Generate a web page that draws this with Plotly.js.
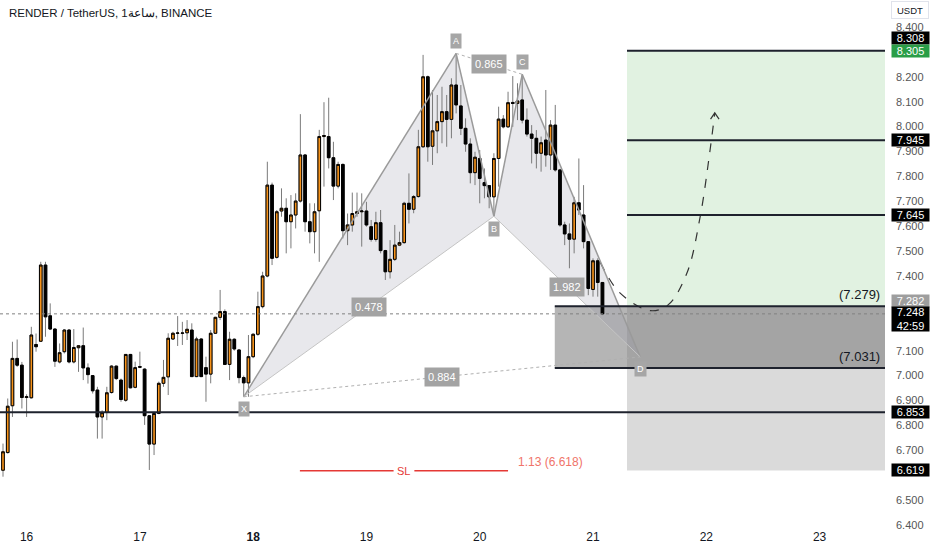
<!DOCTYPE html>
<html><head><meta charset="utf-8">
<script src="https://cdn.plot.ly/plotly-3.0.1.min.js"></script>
<style>html,body{margin:0;padding:0;background:#fff}#chart{width:932px;height:550px}</style>
</head><body><div id="chart"></div><script>
// Hourly candles, RENDER/USDT (first candle = 15th 19:00)
const open  = [6.620,6.691,6.879,7.069,7.042,6.912,6.911,7.125,7.138,7.444,7.240,7.187,7.055,7.096,7.183,7.055,7.112,7.120,7.031,7.000,
6.942,6.834,6.852,6.932,7.038,6.982,6.901,7.085,6.953,7.036,7.026,6.839,6.725,6.848,6.969,6.995,7.147,7.170,7.170,7.172,
7.183,6.996,7.147,7.032,7.006,7.170,7.234,7.257,7.045,7.146,7.103,6.992,6.971,7.076,7.166,7.277,7.400,7.765,7.475,7.661,
7.672,7.618,7.645,7.701,7.886,7.618,7.578,7.662,7.960,7.960,7.875,7.761,7.848,7.582,7.605,7.651,7.658,7.661,7.598,7.547,
7.614,7.502,7.417,7.467,7.524,7.534,7.692,7.668,7.719,7.919,8.200,7.921,7.983,8.020,8.060,8.029,8.167,8.083,7.993,7.930,
7.815,7.872,7.775,7.763,7.718,7.872,8.030,7.999,8.097,8.093,8.107,8.026,7.970,7.953,7.893,7.946,7.886,8.006,7.826,7.605,
7.569,7.548,7.694,7.645,7.538,7.346,7.461,7.374];
const high  = [6.727,6.908,7.136,7.145,7.055,6.925,7.196,7.169,7.457,7.457,7.290,7.190,7.129,7.187,7.187,7.187,7.122,7.193,7.049,7.002,
6.955,6.861,6.955,7.042,7.040,6.988,7.085,7.087,7.056,7.096,7.030,6.840,6.855,6.976,7.063,7.170,7.176,7.239,7.216,7.223,
7.210,7.156,7.150,7.076,7.183,7.236,7.344,7.266,7.176,7.150,7.107,7.000,7.163,7.170,7.337,7.417,7.859,7.775,7.665,7.752,
7.712,7.725,7.732,8.050,7.890,7.692,7.692,7.987,8.098,8.116,7.939,7.859,7.852,7.651,7.735,7.735,7.732,7.698,7.625,7.658,
7.665,7.505,7.544,7.605,7.578,7.698,7.812,7.725,7.987,8.288,8.205,8.147,8.127,8.160,8.127,8.194,8.294,8.167,8.033,7.953,
7.899,7.906,7.832,7.765,7.893,8.080,8.046,8.140,8.203,8.174,8.210,8.073,8.006,7.986,7.960,8.147,8.026,8.087,7.830,7.618,
7.611,7.718,7.872,7.765,7.540,7.471,7.471,7.376];
const low   = [6.594,6.687,6.834,7.035,6.868,6.834,6.908,7.096,7.136,7.156,7.183,7.035,7.049,7.089,7.049,7.049,7.015,6.982,6.968,6.928,
6.747,6.747,6.821,6.928,6.982,6.895,6.895,6.949,6.949,7.030,6.802,6.621,6.681,6.845,6.955,6.922,7.143,7.119,7.123,7.143,
6.996,6.994,6.994,6.895,6.969,7.168,7.223,7.043,6.982,7.100,6.969,6.915,6.915,7.070,7.160,7.270,7.395,7.444,7.470,7.638,
7.491,7.511,7.591,7.695,7.578,7.531,7.491,7.457,7.759,7.832,7.705,7.752,7.551,7.524,7.578,7.638,7.518,7.598,7.538,7.538,
7.491,7.384,7.390,7.460,7.520,7.530,7.611,7.652,7.715,7.915,7.859,7.846,7.893,7.933,7.919,7.953,8.053,7.966,7.899,7.772,
7.765,7.692,7.712,7.672,7.640,7.759,7.993,7.995,7.999,8.026,8.013,7.960,7.852,7.832,7.819,7.839,7.826,7.819,7.598,7.524,
7.431,7.491,7.645,7.511,7.323,7.317,7.317,7.243];
const close = [6.694,6.877,7.069,7.042,6.912,6.915,7.163,7.116,7.444,7.236,7.187,7.058,7.092,7.183,7.055,7.113,7.120,7.031,7.004,6.939,
6.834,6.851,6.931,7.038,6.988,6.904,7.085,6.951,7.032,7.034,6.839,6.725,6.848,6.969,6.993,7.150,7.170,7.171,7.171,7.186,
6.996,7.147,6.996,7.006,7.170,7.234,7.257,7.045,7.146,7.107,6.992,6.971,7.076,7.166,7.277,7.400,7.765,7.471,7.658,7.672,
7.618,7.645,7.701,7.886,7.618,7.578,7.658,7.960,7.964,7.875,7.761,7.848,7.582,7.605,7.651,7.658,7.661,7.605,7.547,7.614,
7.502,7.417,7.467,7.524,7.534,7.692,7.668,7.719,7.919,8.200,7.919,7.983,8.020,8.060,8.029,8.167,8.087,7.993,7.930,7.815,
7.877,7.792,7.763,7.718,7.872,8.030,7.999,8.096,8.093,8.103,8.026,7.970,7.953,7.893,7.935,7.886,8.006,7.826,7.605,7.569,
7.548,7.694,7.665,7.538,7.350,7.461,7.374,7.248];

const firstHour = 19;                 // first candle at 19:00 of day 15
const dayLabels = ['16','17','<b>18</b>','19','20','21','22','23'];
// tick values visible on the price scale (8.300, 7.300, 7.200, 6.600 are hidden behind price boxes)
const yTicks = [6.4,6.5,6.7,6.8,6.9,7.0,7.1,7.4,7.5,7.6,7.7,7.8,7.9,8.0,8.1,8.2,8.4];

// XABCD pattern (x = candle index, y = price)
const patX = [51, 96, 104, 110, 135];
const patY = [6.915, 8.294, 7.640, 8.210, 7.075];
const patNames = ['X','A','B','C','D'];
const ratioLabels = ['0.478','0.865','0.884','1.982'];

// Long position / zones
const targets = [8.305, 7.945, 7.645];
const entryTop = 7.279, entryBottom = 7.031, stopLevel = 6.619, supportLevel = 6.853, lastPrice = 7.248;
const slPrice = 6.618, slText = '1.13 (6.618)';
const zoneStartEntry = 116.9, zoneStartPos = 132.2;
const slStart = 62.9, slEnd = 107.0;

// projected path (dashed)
const projX = [126.5, 130.7, 137.1, 140.9, 144.9, 147.7, 149.8, 150.8];
const projY = [7.456, 7.332, 7.261, 7.284, 7.412, 7.638, 7.906, 8.055];

// price axis boxes
const boxPrices = [8.308, 8.305, 7.945, 7.645, 7.282, 6.853, 6.619];
const boxColors = ['#000000','#2a9d47','#000000','#000000','#9e9e9e','#000000','#000000'];
const boxShift  = [12, 0, 0, 0, 4, 0, 0];

const xMin = -0.636, xMax = 186.86;
const idx = open.map((_, i) => i);
const bodyHi = open.map((o, i) => Math.max(o, close[i]));
const bodyLo = open.map((o, i) => Math.min(o, close[i]));

const traces = [
  {type:'candlestick', x:idx, open, high, low, close, whiskerwidth:0,
   increasing:{line:{color:'#7a7a7a',width:1}, fillcolor:'#f7931a'},
   decreasing:{line:{color:'#7a7a7a',width:1}, fillcolor:'#000000'},
   hoverinfo:'skip', showlegend:false},
  {type:'candlestick', x:idx, open, high:bodyHi, low:bodyLo, close, whiskerwidth:0,
   increasing:{line:{color:'#000000',width:1}, fillcolor:'#f7931a'},
   decreasing:{line:{color:'#000000',width:1}, fillcolor:'#000000'},
   hoverinfo:'skip', showlegend:false},
  {type:'scatter', mode:'lines', x:projX, y:projY, line:{shape:'spline', dash:'dash', color:'#333', width:1.2},
   hoverinfo:'skip', showlegend:false},
  {type:'scatter', mode:'lines', x:[projX[7]-0.9, projX[7], projX[7]+0.9], y:[projY[7]-0.025, projY[7], projY[7]-0.025],
   line:{color:'#333', width:1.2}, hoverinfo:'skip', showlegend:false}
];

const P = i => ({x: patX[i], y: patY[i]});
const [X, A, B, C, D] = [0,1,2,3,4].map(P);
const shapes = [];
// zones
shapes.push({type:'rect', xref:'x', yref:'y', x0:zoneStartPos, x1:xMax, y0:entryTop, y1:targets[0], fillcolor:'rgba(76,175,80,0.17)', line:{width:0}, layer:'below'});
shapes.push({type:'rect', xref:'x', yref:'y', x0:zoneStartPos, x1:xMax, y0:stopLevel, y1:entryTop, fillcolor:'rgba(150,150,150,0.35)', line:{width:0}, layer:'below'});
shapes.push({type:'rect', xref:'x', yref:'y', x0:zoneStartEntry, x1:xMax, y0:entryBottom, y1:entryTop, fillcolor:'rgba(120,120,120,0.55)', line:{width:0}, layer:'below'});
// pattern fill
shapes.push({type:'path', xref:'x', yref:'y', path:`M ${X.x},${X.y} L ${A.x},${A.y} L ${B.x},${B.y} Z`, fillcolor:'rgba(150,150,170,0.22)', line:{width:0}, layer:'below'});
shapes.push({type:'path', xref:'x', yref:'y', path:`M ${B.x},${B.y} L ${C.x},${C.y} L ${D.x},${D.y} Z`, fillcolor:'rgba(150,150,170,0.22)', line:{width:0}, layer:'below'});
// pattern edges
[[X,A],[A,B],[B,C],[C,D]].forEach(([p,q]) => shapes.push({type:'line', xref:'x', yref:'y', x0:p.x, y0:p.y, x1:q.x, y1:q.y, line:{color:'#9a9a9a', width:1.5}}));
[[X,B],[B,D]].forEach(([p,q]) => shapes.push({type:'line', xref:'x', yref:'y', x0:p.x, y0:p.y, x1:q.x, y1:q.y, line:{color:'#c4c4c4', width:1}}));
[[A,C],[X,D]].forEach(([p,q]) => shapes.push({type:'line', xref:'x', yref:'y', x0:p.x, y0:p.y, x1:q.x, y1:q.y, line:{color:'#b0b0b0', width:1, dash:'dot'}}));
// horizontal levels
targets.forEach(t => shapes.push({type:'line', xref:'x', yref:'y', x0:zoneStartPos, x1:xMax, y0:t, y1:t, line:{color:'#1e222d', width:2}}));
[entryTop, entryBottom].forEach(t => shapes.push({type:'line', xref:'x', yref:'y', x0:zoneStartEntry, x1:xMax, y0:t, y1:t, line:{color:'#1e222d', width:2}}));
shapes.push({type:'line', xref:'x', yref:'y', x0:xMin, x1:xMax, y0:supportLevel, y1:supportLevel, line:{color:'#1e222d', width:2}});
shapes.push({type:'line', xref:'x', yref:'y', x0:xMin, x1:xMax, y0:lastPrice, y1:lastPrice, line:{color:'#808080', width:1, dash:'dot'}});
// SL line with gap
const slMid = (slStart + slEnd) / 2;
shapes.push({type:'line', xref:'x', yref:'y', x0:slStart, x1:slMid-2.2, y0:slPrice, y1:slPrice, line:{color:'#e53935', width:1.3}});
shapes.push({type:'line', xref:'x', yref:'y', x0:slMid+2.2, x1:slEnd, y0:slPrice, y1:slPrice, line:{color:'#e53935', width:1.3}});

const font = 'Liberation Sans, Arial, sans-serif';
const ann = [];
ann.push({xref:'paper', yref:'paper', x:0.008, y:0.975, xanchor:'left', yanchor:'middle', showarrow:false,
  text:'RENDER / TetherUS, 1ساعة, BINANCE', font:{family:font, size:11.5, color:'#131722'}});
// point letters
const letterShift = [-12, 12, -13, 12, -12];
patNames.forEach((n, i) => ann.push({xref:'x', yref:'y', x:patX[i], y:patY[i], yshift:letterShift[i], showarrow:false, text:n,
  xanchor:'center', bgcolor:'#a6a6a6', borderpad:2, font:{family:font, size:9, color:'#fff'}}));
// ratio labels on midpoints
[[X,B],[A,C],[X,D],[B,D]].forEach(([p,q], i) => ann.push({xref:'x', yref:'y', x:(p.x+q.x)/2, y:(p.y+q.y)/2, showarrow:false,
  xanchor:'center', text:ratioLabels[i], bgcolor:'#a3a3a3', borderpad:3, font:{family:font, size:11, color:'#fff'}}));
// zone texts
ann.push({xref:'x', yref:'y', x:xMax, y:entryTop, xanchor:'right', yanchor:'bottom', xshift:-3, yshift:2, showarrow:false,
  text:'('+entryTop.toFixed(3)+')', font:{family:font, size:13, color:'#131722'}});
ann.push({xref:'x', yref:'y', x:xMax, y:entryBottom, xanchor:'right', yanchor:'bottom', xshift:-3, yshift:2, showarrow:false,
  text:'('+entryBottom.toFixed(3)+')', font:{family:font, size:13, color:'#131722'}});
// SL texts
ann.push({xref:'x', yref:'y', x:slMid, y:slPrice, xanchor:'center', showarrow:false, text:'SL', font:{family:font, size:11, color:'#e53935'}});
ann.push({xref:'x', yref:'y', x:slEnd+1.7, y:slPrice, xanchor:'left', yanchor:'middle', yshift:9, showarrow:false, text:slText,
  font:{family:font, size:12, color:'#f07469'}});
// price axis boxes
const boxX = 1 + 25/885;
boxPrices.forEach((p, i) => ann.push({xref:'paper', yref:'y', x:boxX, y:p, yshift:boxShift[i], xanchor:'center', showarrow:false,
  text:p.toFixed(3), bgcolor:boxColors[i], width:37, height:12, borderpad:0, font:{family:font, size:11, color:'#fff'}}));
ann.push({xref:'paper', yref:'y', x:boxX, y:lastPrice, yshift:-5, xanchor:'center', showarrow:false,
  text:lastPrice.toFixed(3)+'<br>42:59', bgcolor:'#000', width:37, height:24, borderpad:0, font:{family:font, size:11, color:'#fff'}});
ann.push({xref:'paper', yref:'paper', x:boxX, y:1-10/528, xanchor:'center', yanchor:'middle', showarrow:false, text:'USDT', bgcolor:'#fff', bordercolor:'#e0e3eb',
  borderwidth:1, borderpad:2, width:32, height:12, font:{family:font, size:9.5, color:'#131722'}});

const layout = {
  width:932, height:550, margin:{l:0, r:47, t:0, b:22},
  paper_bgcolor:'#fff', plot_bgcolor:'#fff', showlegend:false, dragmode:false, boxgap:0.2,
  xaxis:{range:[xMin, xMax], rangeslider:{visible:false}, showgrid:false, zeroline:false, showline:false,
    tickvals: dayLabels.map((_, k) => (24 - firstHour) + 24*k), ticktext: dayLabels, ticks:'',
    tickfont:{family:font, size:12, color:'#131722'}},
  yaxis:{side:'right', range:[6.388, 8.5084], showgrid:false, zeroline:false, showline:false,
    tickvals:yTicks, tickformat:'.3f', ticks:'', ticklabelstandoff:10,
    tickfont:{family:font, size:11, color:'#555'}},
  shapes, annotations:ann
};
Plotly.newPlot('chart', traces, layout, {staticPlot:true, displayModeBar:false});
</script></body></html>
